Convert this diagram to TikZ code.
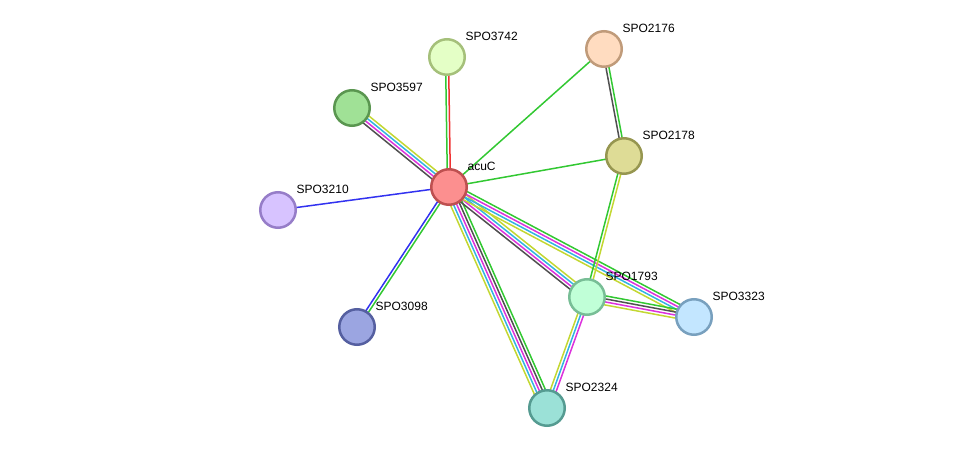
\documentclass[tikz,border=0pt]{standalone}
\usepackage{fontspec}
\setmainfont{Liberation Sans}
\usetikzlibrary{calc,positioning,backgrounds}
\definecolor{lnkgreen}{RGB}{50,200,50}
\definecolor{lnkred}{RGB}{240,50,50}
\definecolor{lnkblue}{RGB}{50,50,240}
\definecolor{lnkyellow}{RGB}{195,215,50}
\definecolor{lnkcyan}{RGB}{50,180,225}
\definecolor{lnkmagenta}{RGB}{220,50,220}
\definecolor{lnkgray}{RGB}{80,80,80}

% parallel coloured links between two proteins
\newcommand{\strlink}[4]{%
  \foreach \c [count=\i] in {#4} {
    \pgfmathsetmacro\off{(\i-(#3+1)/2)*3}
    \draw[link, \c] ($(#1)!\off pt!90:(#2)$) -- ($(#2)!\off pt!-90:(#1)$);
  }}

\begin{document}
\begin{tikzpicture}[x=1pt, y=-1pt,
    prot/.style={circle, minimum size=35.5pt, inner sep=0pt, line width=2.5pt},
    lbl/.style={font=\fontsize{12}{14}\selectfont, inner sep=0pt},
    link/.style={line width=1.5pt}
]
\useasboundingbox (0,0) rectangle (976,454);

\node[prot, fill={rgb,255:red,252;green,143;blue,143}, draw={rgb,255:red,190;green,80;blue,80}] (acuc) at (449,187) {};
\node[prot, fill={rgb,255:red,228;green,255;blue,198}, draw={rgb,255:red,165;green,192;blue,122}] (spo3742) at (447,57) {};
\node[prot, fill={rgb,255:red,255;green,220;blue,192}, draw={rgb,255:red,192;green,155;blue,122}] (spo2176) at (604,49) {};
\node[prot, fill={rgb,255:red,160;green,225;blue,150}, draw={rgb,255:red,90;green,150;blue,80}] (spo3597) at (352,108) {};
\node[prot, fill={rgb,255:red,222;green,220;blue,150}, draw={rgb,255:red,150;green,150;blue,80}] (spo2178) at (624,156) {};
\node[prot, fill={rgb,255:red,215;green,195;blue,255}, draw={rgb,255:red,150;green,125;blue,200}] (spo3210) at (278,210) {};
\node[prot, fill={rgb,255:red,192;green,255;blue,215}, draw={rgb,255:red,120;green,190;blue,150}] (spo1793) at (587,297) {};
\node[prot, fill={rgb,255:red,195;green,230;blue,255}, draw={rgb,255:red,120;green,160;blue,190}] (spo3323) at (694,317) {};
\node[prot, fill={rgb,255:red,155;green,165;blue,225}, draw={rgb,255:red,85;green,95;blue,160}] (spo3098) at (357,327) {};
\node[prot, fill={rgb,255:red,155;green,225;blue,215}, draw={rgb,255:red,85;green,155;blue,145}] (spo2324) at (547,408) {};

\node[lbl, above right=3pt and 5pt of acuc.north east] (l-acuc) {acuC};
\node[lbl, above right=3pt and 5pt of spo3742.north east] (l-spo3742) {SPO3742};
\node[lbl, above right=3pt and 5pt of spo2176.north east] (l-spo2176) {SPO2176};
\node[lbl, above right=3pt and 5pt of spo3597.north east] (l-spo3597) {SPO3597};
\node[lbl, above right=3pt and 5pt of spo2178.north east] (l-spo2178) {SPO2178};
\node[lbl, above right=3pt and 5pt of spo3210.north east] (l-spo3210) {SPO3210};
\node[lbl, above right=3pt and 5pt of spo1793.north east] (l-spo1793) {SPO1793};
\node[lbl, above right=3pt and 5pt of spo3323.north east] (l-spo3323) {SPO3323};
\node[lbl, above right=3pt and 5pt of spo3098.north east] (l-spo3098) {SPO3098};
\node[lbl, above right=3pt and 5pt of spo2324.north east] (l-spo2324) {SPO2324};

\begin{scope}[on background layer]
\strlink{acuc}{spo3742}{2}{lnkred,lnkgreen}
\strlink{acuc}{spo2176}{1}{lnkgreen}
\strlink{acuc}{spo2178}{1}{lnkgreen}
\strlink{acuc}{spo3597}{4}{lnkyellow,lnkcyan,lnkmagenta,lnkgray}
\strlink{acuc}{spo3210}{1}{lnkblue}
\strlink{acuc}{spo3098}{2}{lnkblue,lnkgreen}
\strlink{acuc}{spo2324}{5}{lnkyellow,lnkcyan,lnkmagenta,lnkgray,lnkgreen}
\strlink{acuc}{spo1793}{4}{lnkgray,lnkmagenta,lnkcyan,lnkyellow}
\strlink{acuc}{spo3323}{4}{lnkyellow,lnkcyan,lnkmagenta,lnkgreen}
\strlink{spo2176}{spo2178}{2}{lnkgray,lnkgreen}
\strlink{spo2178}{spo1793}{2}{lnkgreen,lnkyellow}
\strlink{spo1793}{spo3323}{4}{lnkyellow,lnkmagenta,lnkgray,lnkgreen}
\strlink{spo1793}{spo2324}{3}{lnkyellow,lnkcyan,lnkmagenta}
\end{scope}
\end{tikzpicture}
\end{document}
